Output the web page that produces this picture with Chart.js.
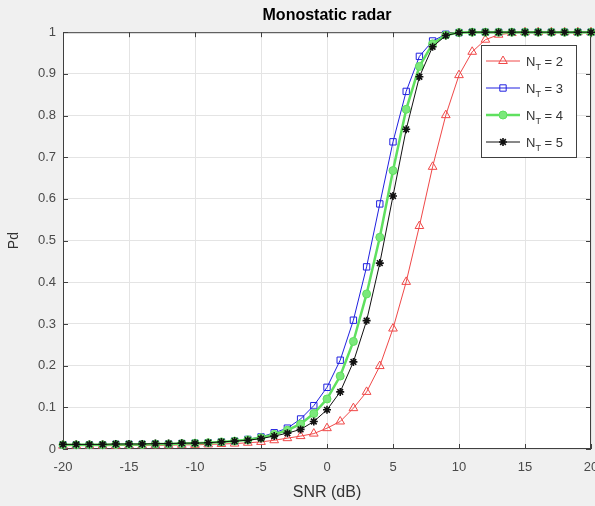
<!DOCTYPE html>
<html>
<head>
<meta charset="utf-8">
<script src="https://cdn.jsdelivr.net/npm/chart.js@4.4.1/dist/chart.umd.min.js"></script>
<style>
  html, body { margin: 0; padding: 0; background: #f0f0f0; }
  canvas { display: block; }
</style>
</head>
<body>
<canvas id="pdChart" width="595" height="506"></canvas>
<script>
// SNR in dB, one point per dB
const snr = [-20, -19, -18, -17, -16, -15, -14, -13, -12, -11, -10, -9, -8, -7, -6, -5, -4, -3, -2, -1,
  0, 1, 2, 3, 4, 5, 6, 7, 8, 9, 10, 11, 12, 13, 14, 15, 16, 17, 18, 19, 20];

// detection probability
const pdNr2 = [0.008, 0.008, 0.008, 0.008, 0.008, 0.009, 0.009, 0.009, 0.009, 0.010, 0.010, 0.011, 0.012, 0.013, 0.015, 0.017, 0.021, 0.026, 0.031, 0.037,
  0.050, 0.066, 0.098, 0.137, 0.199, 0.289, 0.401, 0.535, 0.677, 0.801, 0.897, 0.953, 0.982, 0.994, 0.998, 1, 1, 1, 1, 1, 1];
const pdNr3 = [0.010, 0.010, 0.010, 0.010, 0.011, 0.011, 0.011, 0.012, 0.012, 0.013, 0.014, 0.015, 0.017, 0.019, 0.023, 0.029, 0.039, 0.050, 0.072, 0.104,
  0.148, 0.213, 0.309, 0.437, 0.588, 0.737, 0.858, 0.942, 0.979, 0.995, 0.999, 1, 1, 1, 1, 1, 1, 1, 1, 1, 1];
const pdNr4 = [0.010, 0.010, 0.010, 0.010, 0.011, 0.011, 0.011, 0.012, 0.012, 0.013, 0.014, 0.015, 0.017, 0.019, 0.022, 0.027, 0.035, 0.045, 0.060, 0.085,
  0.120, 0.175, 0.258, 0.372, 0.508, 0.668, 0.815, 0.918, 0.972, 0.993, 0.999, 1, 1, 1, 1, 1, 1, 1, 1, 1, 1];
const pdNr5 = [0.011, 0.011, 0.011, 0.011, 0.012, 0.012, 0.012, 0.013, 0.013, 0.014, 0.014, 0.015, 0.017, 0.019, 0.021, 0.025, 0.031, 0.038, 0.047, 0.066,
  0.094, 0.137, 0.209, 0.308, 0.446, 0.607, 0.767, 0.893, 0.965, 0.992, 0.999, 1, 1, 1, 1, 1, 1, 1, 1, 1, 1];

const nrValues = [2, 3, 4, 5];

const xTicks = [-20, -15, -10, -5, 0, 5, 10, 15, 20];
const xTickLabels = ["-20", "-15", "-10", "-5", "0", "5", "10", "15", "20"];
const yTicks = [0, 0.1, 0.2, 0.3, 0.4, 0.5, 0.6, 0.7, 0.8, 0.9, 1];
const yTickLabels = ["0", "0.1", "0.2", "0.3", "0.4", "0.5", "0.6", "0.7", "0.8", "0.9", "1"];

const FONT = "'Liberation Sans', Arial, sans-serif";
const frameColor = "#404040";

function toPoints(ys) {
    return snr.map((x, i) => ({ x: x, y: ys[i] }));
}

// grey figure background, white axes
const axesBackground = {
    id: "axesBackground",
    beforeDraw(chart) {
        const { ctx, chartArea: a } = chart;
        ctx.save();
        ctx.fillStyle = "#f0f0f0";
        ctx.fillRect(0, 0, chart.width, chart.height);
        ctx.fillStyle = "#ffffff";
        ctx.fillRect(a.left, a.top, a.right - a.left, a.bottom - a.top);
        ctx.restore();
    },
};

// matlab style box with inward ticks
const axesBox = {
    id: "axesBox",
    beforeDatasetsDraw(chart) {
        const { ctx, chartArea: a, scales } = chart;
        ctx.save();
        ctx.strokeStyle = frameColor;
        ctx.lineWidth = 1;
        ctx.strokeRect(a.left + 0.5, a.top + 0.5, a.right - a.left - 1, a.bottom - a.top - 1);
        ctx.beginPath();
        xTicks.forEach(v => {
            const px = Math.round(scales.x.getPixelForValue(v)) + 0.5;
            ctx.moveTo(px, a.bottom); ctx.lineTo(px, a.bottom - 5);
            ctx.moveTo(px, a.top); ctx.lineTo(px, a.top + 5);
        });
        yTicks.forEach(v => {
            const py = Math.round(scales.y.getPixelForValue(v)) + 0.5;
            ctx.moveTo(a.left, py); ctx.lineTo(a.left + 5, py);
            ctx.moveTo(a.right, py); ctx.lineTo(a.right - 5, py);
        });
        ctx.stroke();
        ctx.restore();
    },
};

// legend inside the axes, with subscript
const boxLegend = {
    id: "boxLegend",
    afterDraw(chart) {
        const ctx = chart.ctx;
        const bx = 481.5, by = 45.5, bw = 95, bh = 112;
        ctx.save();
        ctx.fillStyle = "#ffffff";
        ctx.fillRect(bx, by, bw, bh);
        ctx.strokeStyle = frameColor;
        ctx.lineWidth = 1;
        ctx.strokeRect(bx, by, bw, bh);
        chart.data.datasets.forEach((ds, i) => {
            const y = 61 + i * 27;
            ctx.strokeStyle = ds.borderColor;
            ctx.lineWidth = ds.borderWidth;
            ctx.beginPath();
            ctx.moveTo(486, y);
            ctx.lineTo(520, y);
            ctx.stroke();
            ctx.fillStyle = ds.pointBackgroundColor;
            ctx.strokeStyle = ds.pointBorderColor;
            ctx.lineWidth = ds.pointBorderWidth;
            Chart.helpers.drawPoint(ctx, {
                pointStyle: ds.pointStyle, radius: ds.pointRadius, rotation: 0, borderWidth: ds.pointBorderWidth,
            }, 503, y);

            ctx.fillStyle = "#333333";
            ctx.textBaseline = "alphabetic";
            ctx.font = "13px " + FONT;
            let tx = 526;
            ctx.fillText("N", tx, y + 5);
            tx += ctx.measureText("N").width;
            ctx.font = "9px " + FONT;
            ctx.fillText("T", tx, y + 9);
            tx += ctx.measureText("T").width;
            ctx.font = "13px " + FONT;
            ctx.fillText(" = " + nrValues[i], tx, y + 5);
        });
        ctx.restore();
    },
};

const ctx = document.getElementById("pdChart").getContext("2d");
const pdChart = new Chart(ctx, {
    type: "line",
    data: {
        datasets: [
            {
                label: "Nr = " + nrValues[0],
                data: toPoints(pdNr2),
                borderColor: "#f04848",
                borderWidth: 1,
                pointStyle: "triangle",
                pointRadius: 5,
                pointBorderWidth: 1,
                pointBorderColor: "#f04848",
                pointBackgroundColor: "rgba(0,0,0,0)",
                order: 4,
            },
            {
                label: "Nr = " + nrValues[1],
                data: toPoints(pdNr3),
                borderColor: "#2020e0",
                borderWidth: 1,
                pointStyle: "rect",
                pointRadius: 4.5,
                pointBorderWidth: 1,
                pointBorderColor: "#2020e0",
                pointBackgroundColor: "rgba(0,0,0,0)",
                order: 3,
            },
            {
                label: "Nr = " + nrValues[2],
                data: toPoints(pdNr4),
                borderColor: "#5fe05f",
                borderWidth: 2.5,
                pointStyle: "circle",
                pointRadius: 4,
                pointBorderWidth: 1,
                pointBorderColor: "#5fe05f",
                pointBackgroundColor: "#7be87b",
                order: 2,
            },
            {
                label: "Nr = " + nrValues[3],
                data: toPoints(pdNr5),
                borderColor: "#111111",
                borderWidth: 1,
                pointStyle: "star",
                pointRadius: 4,
                pointBorderWidth: 1.6,
                pointBorderColor: "#111111",
                pointBackgroundColor: "#111111",
                order: 1,
            },
        ],
    },
    options: {
        responsive: false,
        devicePixelRatio: 1,
        animation: false,
        clip: false,
        layout: { autoPadding: false, padding: { left: 0, right: 4, top: 0, bottom: 0 } },
        elements: { line: { tension: 0 } },
        plugins: {
            legend: { display: false },
            tooltip: { enabled: false },
            title: {
                display: true,
                text: "Monostatic radar",
                fullSize: false,
                color: "#000000",
                font: { family: FONT, size: 16, weight: "bold" },
                padding: { top: 6, bottom: 7 },
            },
        },
        scales: {
            x: {
                type: "linear",
                min: -20,
                max: 20,
                afterFit(scale) {
                    scale.height = 57;
                    scale.paddingLeft = 0;
                    scale.paddingRight = 0;
                },
                afterBuildTicks(scale) { scale.ticks = xTicks.map(v => ({ value: v })); },
                ticks: {
                    padding: 11,
                    color: "#4a4a4a",
                    font: { family: FONT, size: 13 },
                    callback: (v) => xTickLabels[xTicks.indexOf(v)],
                },
                grid: { color: "#e4e4e4", drawTicks: false },
                border: { display: false },
                title: {
                    display: true,
                    text: "SNR (dB)",
                    color: "#333333",
                    font: { family: FONT, size: 16 },
                    padding: { top: 0, bottom: 4 },
                },
            },
            y: {
                type: "linear",
                min: 0,
                max: 1,
                afterFit(scale) {
                    scale.width = 63;
                    scale.paddingTop = 0;
                    scale.paddingBottom = 0;
                },
                afterBuildTicks(scale) { scale.ticks = yTicks.map(v => ({ value: v })); },
                ticks: {
                    padding: 7,
                    color: "#4a4a4a",
                    font: { family: FONT, size: 13 },
                    callback: (v) => yTickLabels[yTicks.indexOf(v)],
                },
                grid: { color: "#e4e4e4", drawTicks: false },
                border: { display: false },
                title: {
                    display: true,
                    text: "Pd",
                    color: "#333333",
                    font: { family: FONT, size: 14 },
                    padding: { top: 6, bottom: 0 },
                },
            },
        },
    },
    plugins: [axesBackground, axesBox, boxLegend],
});
</script>
</body>
</html>
